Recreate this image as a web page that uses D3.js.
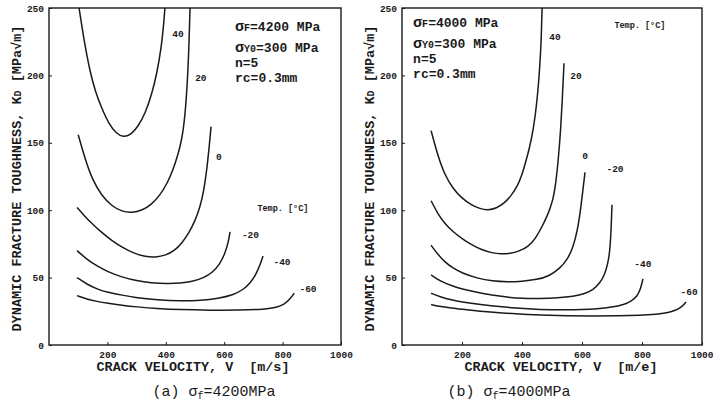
<!DOCTYPE html>
<html>
<head>
<meta charset="utf-8">
<script src="https://cdn.jsdelivr.net/npm/d3@7"></script>
<style>
  body { margin: 0; background: #fff; }
  svg { display: block; }
  .frame { fill: none; stroke: #1a1a1a; stroke-width: 1.4; }
  .curve { fill: none; stroke: #1a1a1a; stroke-width: 1.5; }
  .tick text { font-family: "Liberation Mono", monospace; font-weight: bold; font-size: 9.5px; fill: #1a1a1a; }
  .tick line { stroke: #1a1a1a; }
  .domain { display: none; }
  .mono { font-family: "Liberation Mono", monospace; fill: #1a1a1a; }
</style>
</head>
<body>
<script>
const width = 713,
      height = 401;

// axis ticks
const velocityTicks = [200, 400, 600, 800, 1000];
const toughnessTicks = [0, 50, 100, 150, 200, 250];
const temps = ["40", "20", "0", "-20", "-40", "-60"];

// (a) sigma_f = 4200 MPa : [crack velocity m/s, K_D MPa sqrt(m)]
const a40  = [[103,250],[120,226],[140,203],[160,187],[180,176],[205,164],[230,157],[255,154],[280,156],[305,162],[330,172],[352,186],[370,202],[384,220],[392,236],[397,250]];
const a20  = [[100,156],[125,137],[150,122],[180,111],[215,103],[250,99],[284,98],[320,100],[350,104],[380,111],[405,120],[425,130],[440,140],[455,152],[466,170],[474,195],[479,220],[483,250]];
const a0   = [[96,102],[120,96],[150,89.5],[180,83.5],[215,77.5],[250,72.5],[290,68],[330,65.5],[365,65],[400,66.5],[430,70],[455,75.5],[480,83.5],[500,92],[517,102],[530,114],[541,131],[550,150],[555,162]];
const am20 = [[96,70],[130,63.5],[165,58.5],[200,54.5],[250,50.3],[300,47.6],[350,46.1],[404,45.5],[450,45.8],[490,47],[530,49.8],[560,53.8],[585,60],[602,67.5],[614,76],[620,84]];
const am40 = [[96,50],[130,45],[165,41.5],[200,39],[250,37],[300,35],[370,33.5],[449,32.6],[520,33],[580,34.5],[630,37],[665,41],[690,46],[710,53],[722,59],[733,66]];
const am60 = [[96,36.6],[130,34],[165,32.3],[200,31],[250,29.5],[300,28.3],[370,27],[449,26.2],[550,25.8],[650,25.8],[740,26.5],[780,27.8],[805,30],[825,34],[840,38.5]];

// (b) sigma_f = 4000 MPa
const b40  = [[97,159],[120,140],[143,126],[170,116],[199,109],[230,104],[260,101],[287,100],[315,101.5],[340,105],[365,111],[385,118],[398,125],[410,134],[425,146],[438,160],[450,180],[459,205],[464,225],[467,250]];
const b20  = [[97,107],[120,97],[143,90],[170,84],[199,79],[230,74.5],[266,70.5],[300,68.3],[330,67.5],[360,67.8],[390,69.5],[421,73],[445,79],[465,87],[485,96],[503,107],[513,120],[522,140],[529,160],[535,185],[540,209]];
const b0   = [[97,74],[120,67],[143,61.5],[170,57],[199,53.5],[250,49.5],[303,47.3],[350,46.8],[400,47.2],[450,48.5],[490,51],[527,57],[550,63],[570,72],[585,85],[595,100],[603,115],[610,128]];
const bm20 = [[97,52],[130,47],[165,44],[199,41.5],[250,39],[300,37],[350,35.5],[400,34.5],[460,34.5],[520,35],[571,36],[610,38],[637,41],[660,46],[675,52],[686,60],[693,70],[697,85],[700,104]];
const bm40 = [[97,38.4],[130,35.5],[165,33.5],[199,32],[250,30.3],[300,29],[380,27.3],[460,26.3],[540,26],[600,26.2],[650,26.8],[700,28],[740,30],[765,32.5],[785,36.5],[796,42],[803,49]];
const bm60 = [[97,30],[130,28.5],[165,27.3],[199,26.5],[250,25.3],[300,24.4],[380,23],[460,22.2],[550,21.7],[640,21.5],[720,21.6],[793,22],[850,22.8],[883,23.8],[910,25.5],[927,27.5],[940,30],[947,32]];

const svg = d3.select("body").append("svg")
    .attr("width", width)
    .attr("height", height);

function drawPanel(p) {
    let x = d3.scaleLinear().domain([0, 1000]).range([p.left, p.right]);
    let y = d3.scaleLinear().domain([0, 250]).range([p.bottom, p.top]);

    let g = svg.append("g");

    g.append("clipPath").attr("id", "clip" + p.id)
        .append("rect")
        .attr("x", p.left).attr("y", p.top)
        .attr("width", p.right - p.left).attr("height", p.bottom - p.top);

    let xAxis = d3.axisBottom(x).tickValues(velocityTicks).tickFormat(d3.format("d")).tickSize(-3).tickPadding(6);
    let yAxis = d3.axisLeft(y).tickValues(toughnessTicks).tickSize(-3).tickPadding(5);

    let xg = g.append("g")
        .attr("transform", "translate(0," + p.bottom + ")")
        .call(xAxis);
    if (p.lastTickEnd) {
        xg.selectAll(".tick:last-of-type text")
            .attr("text-anchor", "end")
            .attr("x", p.lastTickEnd);
    }
    g.append("g")
        .attr("transform", "translate(" + p.left + ",0)")
        .call(yAxis);

    g.append("rect")
        .attr("class", "frame")
        .attr("x", p.left).attr("y", p.top)
        .attr("width", p.right - p.left).attr("height", p.bottom - p.top);

    let line = d3.line()
        .x(function (d) {return x(d[0]);})
        .y(function (d) {return y(d[1]);})
        .curve(d3.curveBasis);

    g.append("g")
        .attr("clip-path", "url(#clip" + p.id + ")")
        .selectAll("path")
        .data(p.curves)
        .enter()
        .append("path")
        .attr("class", "curve")
        .attr("d", line);

    // temperature labels next to each curve
    g.selectAll(".clabel")
        .data(temps)
        .enter()
        .append("text")
        .attr("class", "mono")
        .attr("x", function (d, i) {return x(p.labelAt[i][0]);})
        .attr("y", function (d, i) {return y(p.labelAt[i][1]);})
        .attr("text-anchor", "middle")
        .attr("dominant-baseline", "middle")
        .style("font-size", "9.5px")
        .style("font-weight", "bold")
        .text(function (d) {return d;});

    g.append("text")
        .attr("class", "mono")
        .attr("x", x(p.tempAt[0]))
        .attr("y", y(p.tempAt[1]))
        .attr("text-anchor", "middle")
        .attr("dominant-baseline", "middle")
        .style("font-size", "8.5px")
        .style("font-weight", "bold")
        .text("Temp. [°C]");

    // material parameters
    let ax = x(p.noteAt[0]);
    let rows = [
        {y: p.noteY[0], parts: [["σ", 15], ["F", 10], ["=" + p.sigmaF + " MPa", 13]]},
        {y: p.noteY[1], parts: [["σ", 15], ["Y0", 10], ["=300 MPa", 13]]},
        {y: p.noteY[2], parts: [["n=5", 13]]},
        {y: p.noteY[3], parts: [["rc=0.3mm", 13]]}
    ];
    rows.forEach(function (r) {
        let t = g.append("text")
            .attr("class", "mono")
            .attr("x", ax)
            .attr("y", y(r.y) + 4)
            .style("font-weight", "bold");
        r.parts.forEach(function (pt) {
            t.append("tspan").style("font-size", pt[1] + "px").text(pt[0]);
        });
    });

    // axis titles
    let yt = g.append("text")
        .attr("class", "mono")
        .attr("text-anchor", "middle")
        .attr("transform", "translate(" + (p.left - 28) + "," + ((p.top + p.bottom) / 2 + 2) + ")rotate(-90)")
        .style("font-size", "13.5px")
        .style("font-weight", "bold");
    yt.append("tspan").text("DYNAMIC FRACTURE TOUGHNESS, K");
    yt.append("tspan").style("font-size", "10px").text("D");
    yt.append("tspan").text(" [MPa√m]");

    g.append("text")
        .attr("class", "mono")
        .attr("text-anchor", "middle")
        .attr("x", (p.left + p.right) / 2 + p.xTitleShift)
        .attr("y", p.bottom + 26)
        .style("font-size", "13.4px")
        .style("font-weight", "bold")
        .style("white-space", "pre")
        .text("CRACK VELOCITY, V  " + p.unit);

    let cap = g.append("text")
        .attr("class", "mono")
        .attr("text-anchor", "middle")
        .attr("x", p.captionX)
        .attr("y", p.bottom + 51)
        .style("font-size", "15px")
        .style("white-space", "pre");
    cap.append("tspan").text(p.tag + " σ");
    cap.append("tspan").style("font-size", "10px").attr("dy", 3).text("f");
    cap.append("tspan").attr("dy", -3).text("=" + p.captionValue + "MPa");
}

drawPanel({
    id: "a", left: 49, right: 341, top: 8, bottom: 345,
    curves: [a40, a20, a0, am20, am40, am60],
    labelAt: [[442,230],[520,198],[582,139],[690,81],[798,61],[887,41]],
    tempAt: [801, 101],
    noteAt: [637], noteY: [236, 220, 209, 198],
    sigmaF: "4200", unit: "[m/s]", xTitleShift: -2,
    tag: "(a)", captionX: 214, captionValue: "4200"
});

drawPanel({
    id: "b", left: 402, right: 702, top: 8, bottom: 345,
    curves: [b40, b20, b0, bm20, bm40, bm60],
    labelAt: [[510,228],[580,199],[610,140],[710,130],[803,60],[957,39]],
    tempAt: [793, 237],
    noteAt: [37], noteY: [239, 223, 212, 201],
    sigmaF: "4000", unit: "[m/e]", xTitleShift: 9,
    tag: "(b)", captionX: 509, captionValue: "4000",
    lastTickEnd: 11
});
</script>
</body>
</html>
